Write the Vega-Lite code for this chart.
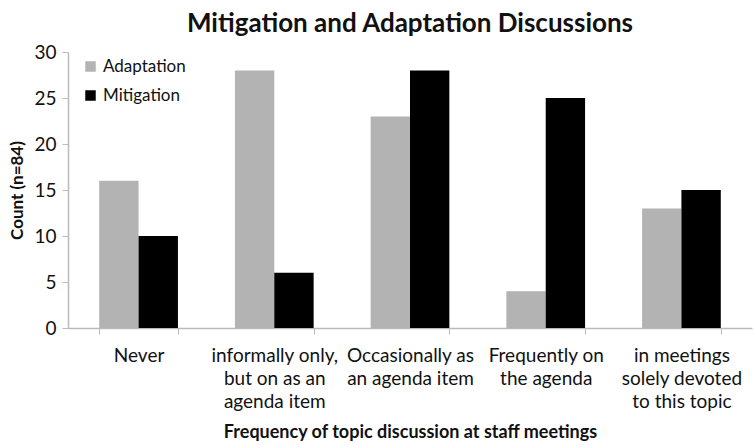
{
  "$schema": "https://vega.github.io/schema/vega-lite/v6.json",
  "autosize": {"type": "none"},
  "width": 684,
  "height": 276,
  "padding": {"left": 68, "top": 52, "right": 2, "bottom": 117},
  "background": "white",
  "config": {"view": {"stroke": null}, "font": "Lato"},
  "title": {"text": "Mitigation and Adaptation Discussions", "fontSize": 26, "fontWeight": "bold", "font": "Lato", "color": "#111", "offset": 6, "anchor": "middle"},
  "data": {"values": [
    {"freq": "Never", "topic": "Adaptation", "count": 16},
    {"freq": "Never", "topic": "Mitigation", "count": 10},
    {"freq": "informally only,|but on as an|agenda item", "topic": "Adaptation", "count": 28},
    {"freq": "informally only,|but on as an|agenda item", "topic": "Mitigation", "count": 6},
    {"freq": "Occasionally as|an agenda item", "topic": "Adaptation", "count": 23},
    {"freq": "Occasionally as|an agenda item", "topic": "Mitigation", "count": 28},
    {"freq": "Frequently on|the agenda", "topic": "Adaptation", "count": 4},
    {"freq": "Frequently on|the agenda", "topic": "Mitigation", "count": 25},
    {"freq": "in meetings|solely devoted|to this topic", "topic": "Adaptation", "count": 13},
    {"freq": "in meetings|solely devoted|to this topic", "topic": "Mitigation", "count": 15}
  ]},
  "mark": {"type": "bar"},
  "encoding": {
    "x": {
      "field": "freq", "type": "nominal", "sort": null,
      "scale": {"paddingInner": 0.42, "paddingOuter": 0.23},
      "axis": {
        "title": "Frequency of topic discussion at staff meetings",
        "titleFontSize": 18, "titleFontWeight": "bold", "titleColor": "#111", "titlePadding": 12,
        "labelExpr": "split(datum.label, '|')",
        "labelAngle": 0, "labelFontSize": 19, "labelColor": "#111", "labelLineHeight": 23, "labelPadding": 12,
        "tickBand": "extent", "tickColor": "#bbb", "tickSize": 6, "domainColor": "#bbb", "domainWidth": 1.5
      }
    },
    "xOffset": {"field": "topic", "type": "nominal"},
    "y": {
      "field": "count", "type": "quantitative",
      "scale": {"domain": [0, 30]},
      "axis": {
        "title": "Count (n=84)", "titleFontSize": 17, "titleFontWeight": "bold", "titleColor": "#111", "titlePadding": 7,
        "values": [0, 5, 10, 15, 20, 25, 30], "grid": false,
        "labelFontSize": 19, "labelColor": "#111", "labelPadding": 6,
        "tickColor": "#bbb", "tickSize": 6, "domainColor": "#bbb", "domainWidth": 1.5
      }
    },
    "color": {
      "field": "topic", "type": "nominal",
      "scale": {"domain": ["Adaptation", "Mitigation"], "range": ["#b3b3b3", "#000000"]},
      "legend": {
        "title": null, "orient": "none", "legendX": 14, "legendY": 6,
        "symbolType": "square", "symbolSize": 110, "symbolStrokeWidth": 0,
        "labelFontSize": 17, "labelColor": "#111", "rowPadding": 11, "labelOffset": 4
      }
    }
  }
}
